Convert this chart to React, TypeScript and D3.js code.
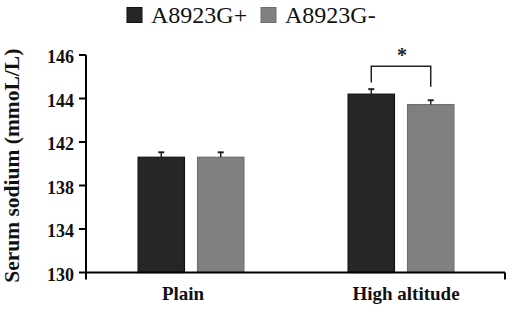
import React from "react";
import * as d3 from "d3";

const categories = ["Plain", "High altitude"];
const seriesNames = ["A8923G+", "A8923G-"];
const plusValues = [140.6, 144.2];
const minusValues = [140.6, 143.72];
const plusErrors = [0.45, 0.23];
const minusErrors = [0.45, 0.2];
const yTickValues = [130, 134, 138, 142, 144, 146];
const yLabel = "Serum sodium (mmoL/L)";
// significance bracket between the two High altitude bars (in axis units)
const sigCategory = "High altitude";
const sigBracket = [144.73, 145.48, 144.54]; // left leg end, top, right leg end
const sigText = "*";

const W = 510;
const H = 314;
const left = 86;
const right = 506;
const yTop = 55;
const yBottom = 272.5;
const colors = ["#262626", "#808080"];
const strokes = ["#111111", "#6e6e6e"];
const serif = "'Liberation Serif', 'DejaVu Serif', serif";

export default function App() {
  const x0 = d3.scaleBand<string>().domain(categories).range([left, right]);
  const bw = x0.bandwidth();
  const x1 = d3
    .scaleBand<string>()
    .domain(seriesNames)
    .range([bw * 0.248, bw * 0.752])
    .paddingInner(0.22);
  const n = yTickValues.length;
  const y = d3
    .scaleLinear()
    .domain(yTickValues)
    .range(yTickValues.map((_, i) => yBottom - (i * (yBottom - yTop)) / (n - 1)));

  const series = [
    { name: seriesNames[0], values: plusValues, errors: plusErrors },
    { name: seriesNames[1], values: minusValues, errors: minusErrors },
  ];

  const sx0 = (x0(sigCategory) as number) + (x1(seriesNames[0]) as number) + x1.bandwidth() / 2;
  const sx1 = (x0(sigCategory) as number) + (x1(seriesNames[1]) as number) + x1.bandwidth() / 2;
  const fs = (size: number, bold: boolean) => ({
    fontFamily: serif,
    fontSize: size + "px",
    fontWeight: bold ? 700 : 400,
  });

  return (
    <svg
      width={W}
      height={H}
      style={{ position: "absolute", left: 0, top: 0, background: "#fff" }}
    >
      <rect width={W} height={H} fill="#fff" />
      {/* legend */}
      {seriesNames.map((s, i) => {
        const lx = i === 0 ? 127 : 261;
        return (
          <g key={s}>
            <rect x={lx} y={7.5} width={15} height={15} fill={colors[i]} stroke={strokes[i]} strokeWidth={1} />
            <text x={lx + 24} y={23} fill="#111" style={fs(24, false)}>
              {s}
            </text>
          </g>
        );
      })}
      {/* bars */}
      {series.map((s, si) =>
        categories.map((c, ci) => {
          const bx = (x0(c) as number) + (x1(s.name) as number);
          const top = y(s.values[ci]);
          const cx = bx + x1.bandwidth() / 2;
          const et = y(s.values[ci] + s.errors[ci]);
          return (
            <g key={s.name + c}>
              <rect
                x={bx}
                y={top}
                width={x1.bandwidth()}
                height={yBottom - top}
                fill={colors[si]}
                stroke={strokes[si]}
                strokeWidth={1.2}
              />
              <line x1={cx} x2={cx} y1={top} y2={et} stroke="#222" strokeWidth={1.5} />
              <line x1={cx - 3} x2={cx + 3} y1={et} y2={et} stroke="#222" strokeWidth={2} />
            </g>
          );
        })
      )}
      {/* y axis */}
      <line x1={left} x2={left} y1={yTop} y2={yBottom + 7} stroke="#000" strokeWidth={2} />
      {yTickValues.map((t) => (
        <g key={t}>
          <line x1={left - 7} x2={left} y1={y(t)} y2={y(t)} stroke="#000" strokeWidth={2} />
          <text
            x={left - 12}
            y={y(t)}
            dy="0.45em"
            textAnchor="end"
            fill="#111"
            style={fs(18, true)}
          >
            {t}
          </text>
        </g>
      ))}
      {/* x axis */}
      <line x1={left} x2={right - 1} y1={yBottom} y2={yBottom} stroke="#000" strokeWidth={2} />
      <line x1={right - 1} x2={right - 1} y1={yBottom} y2={yBottom + 7} stroke="#000" strokeWidth={2} />
      {categories.map((c) => (
        <text
          key={c}
          x={(x0(c) as number) + bw / 2 + (c === "Plain" ? -8 : 5)}
          y={300}
          textAnchor="middle"
          fill="#111"
          style={fs(19, true)}
        >
          {c}
        </text>
      ))}
      {/* y label */}
      <text
        transform={`translate(19,${(yTop + yBottom) / 2 + 2}) rotate(-90)`}
        textAnchor="middle"
        fill="#111"
        style={fs(21.5, true)}
      >
        {yLabel}
      </text>
      {/* significance */}
      <path
        d={`M${sx0},${y(sigBracket[0])}V${y(sigBracket[1])}H${sx1}V${y(sigBracket[2])}`}
        fill="none"
        stroke="#222"
        strokeWidth={1.5}
      />
      <text
        x={(sx0 + sx1) / 2 + 1}
        y={62}
        textAnchor="middle"
        fill="#222"
        style={fs(20, true)}
      >
        {sigText}
      </text>
    </svg>
  );
}
